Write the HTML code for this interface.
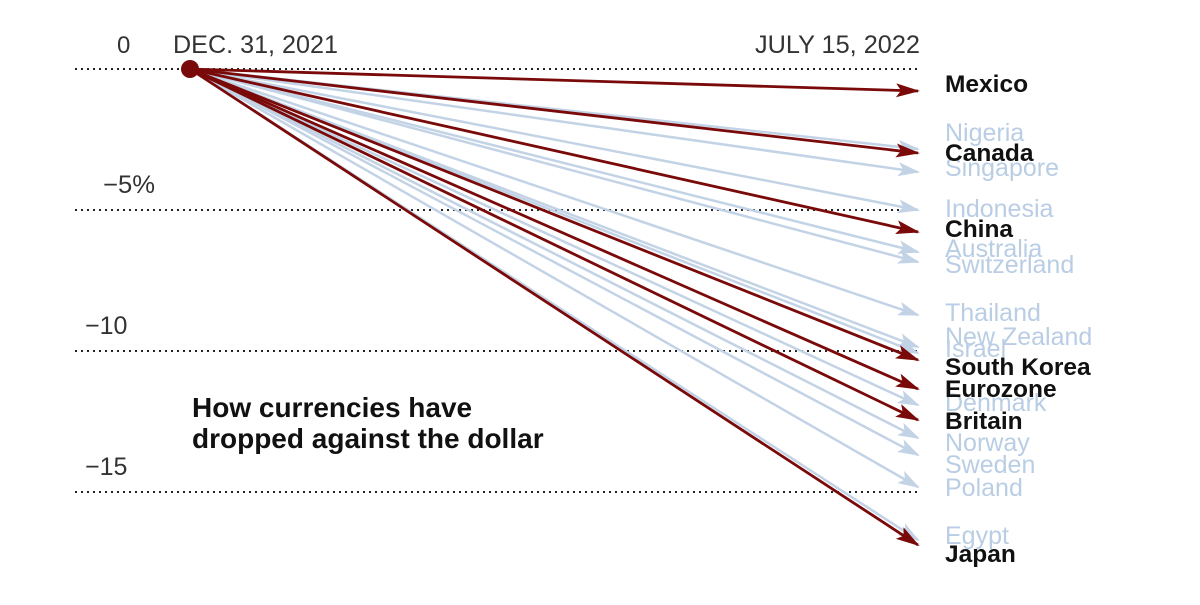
<!DOCTYPE html>
<html><head><meta charset="utf-8"><style>
body{margin:0;background:#fff;}
svg text{font-family:"Liberation Sans",Arial,sans-serif;}
</style></head><body>
<svg width="1200" height="600" viewBox="0 0 1200 600" xmlns="http://www.w3.org/2000/svg">
<defs>
<marker id="al" markerWidth="22" markerHeight="14" refX="20" refY="7" orient="auto" markerUnits="userSpaceOnUse"><path d="M0,0 L22,7 L0,14 L5,7 Z" fill="#c3d3e6"/></marker>
<marker id="ad" markerWidth="24" markerHeight="14" refX="22" refY="7" orient="auto" markerUnits="userSpaceOnUse"><path d="M0,0 L24,7 L0,14 L5,7 Z" fill="#7a0a0a"/></marker>
</defs>
<g stroke="#222" stroke-width="2" stroke-dasharray="2,4">
<line x1="75" y1="69" x2="920" y2="69"/>
<line x1="75" y1="210" x2="920" y2="210"/>
<line x1="75" y1="351" x2="920" y2="351"/>
<line x1="75" y1="492" x2="920" y2="492"/>
</g>
<g font-size="25" fill="#333" textLength="">
<text x="117" y="53" font-size="24">0</text>
<text x="173" y="53" textLength="165" lengthAdjust="spacingAndGlyphs">DEC. 31, 2021</text>
<text x="755" y="53" textLength="165" lengthAdjust="spacingAndGlyphs">JULY 15, 2022</text>
<text x="103" y="193" textLength="52" lengthAdjust="spacingAndGlyphs">−5%</text>
<text x="85" y="334">−10</text>
<text x="85" y="475">−15</text>
</g>
<g stroke="#c3d3e6" stroke-width="2.5" marker-end="url(#al)">
<line x1="190" y1="69" x2="918" y2="149"/>
<line x1="190" y1="69" x2="918" y2="172"/>
<line x1="190" y1="69" x2="918" y2="210"/>
<line x1="190" y1="69" x2="918" y2="252"/>
<line x1="190" y1="69" x2="918" y2="262"/>
<line x1="190" y1="69" x2="918" y2="315"/>
<line x1="190" y1="69" x2="918" y2="347"/>
<line x1="190" y1="69" x2="918" y2="353"/>
<line x1="190" y1="69" x2="918" y2="405"/>
<line x1="190" y1="69" x2="918" y2="438"/>
<line x1="190" y1="69" x2="918" y2="455"/>
<line x1="190" y1="69" x2="918" y2="487"/>
<line x1="190" y1="69" x2="918" y2="540"/>
</g>
<g stroke="#7a0a0a" stroke-width="2.8" marker-end="url(#ad)">
<line x1="190" y1="69" x2="918" y2="91"/>
<line x1="190" y1="69" x2="918" y2="153"/>
<line x1="190" y1="69" x2="918" y2="232"/>
<line x1="190" y1="69" x2="918" y2="360"/>
<line x1="190" y1="69" x2="918" y2="389"/>
<line x1="190" y1="69" x2="918" y2="420"/>
<line x1="190" y1="69" x2="918" y2="545"/>
</g>
<circle cx="190" cy="69" r="9" fill="#7a0a0a"/>
<g font-size="25" fill="#b9cde4">
<text x="945" y="141">Nigeria</text>
<text x="945" y="176">Singapore</text>
<text x="945" y="217">Indonesia</text>
<text x="945" y="257">Australia</text>
<text x="945" y="273">Switzerland</text>
<text x="945" y="321">Thailand</text>
<text x="945" y="345">New Zealand</text>
<text x="945" y="357">Israel</text>
<text x="945" y="411">Denmark</text>
<text x="945" y="451">Norway</text>
<text x="945" y="473">Sweden</text>
<text x="945" y="496">Poland</text>
<text x="945" y="544">Egypt</text>
</g>
<g font-size="24.5" font-weight="bold" fill="#111">
<text x="945" y="92">Mexico</text>
<text x="945" y="161">Canada</text>
<text x="945" y="237">China</text>
<text x="945" y="375">South Korea</text>
<text x="945" y="397">Eurozone</text>
<text x="945" y="429">Britain</text>
<text x="945" y="562">Japan</text>
</g>
<g font-size="28" font-weight="bold" fill="#111">
<text x="192" y="417">How currencies have</text>
<text x="192" y="448">dropped against the dollar</text>
</g>
</svg>
</body></html>
